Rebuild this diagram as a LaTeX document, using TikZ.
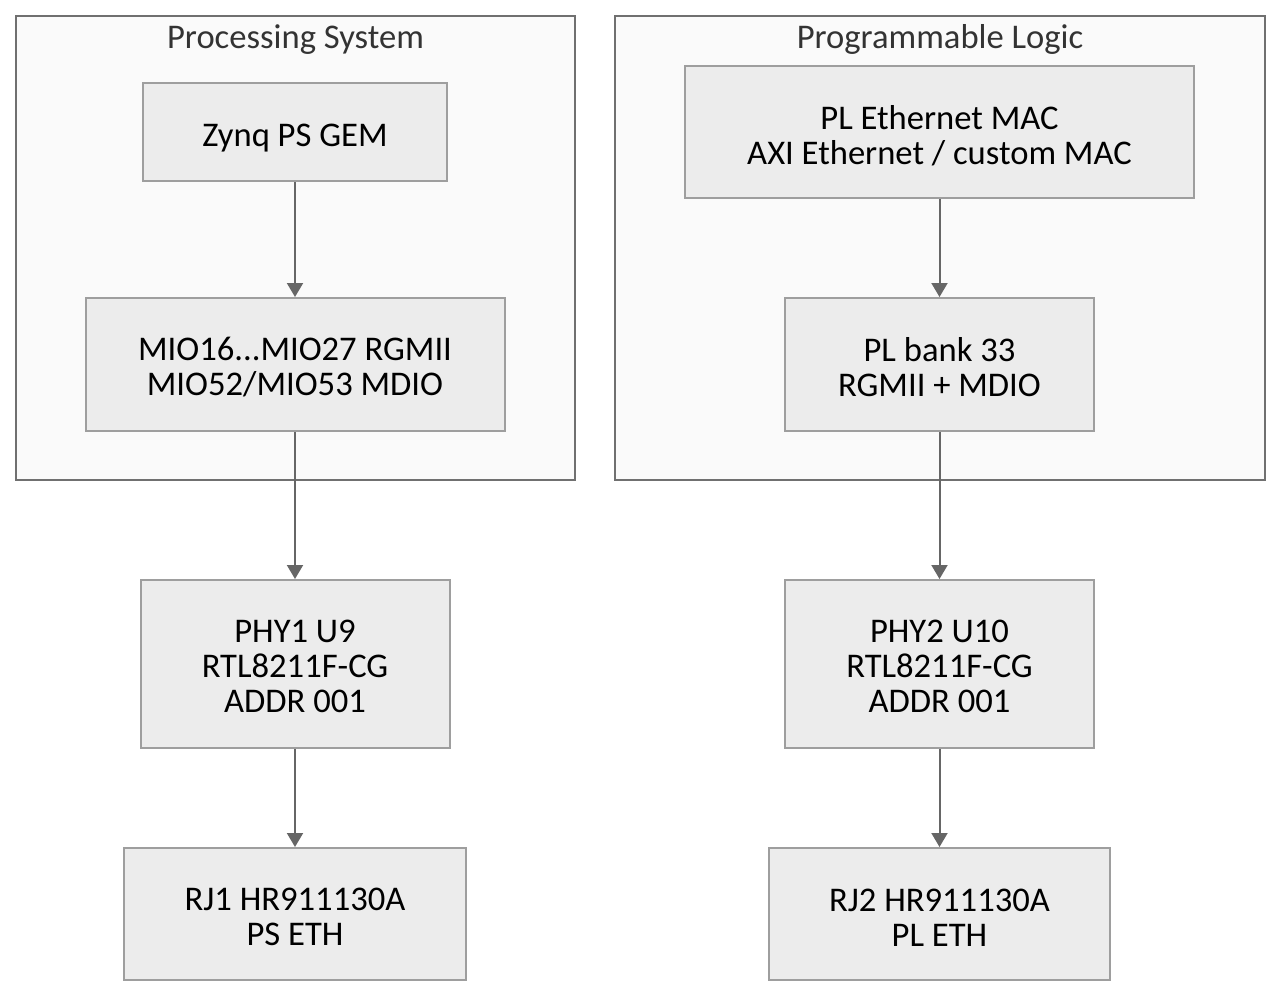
\documentclass[tikz,border=0pt]{standalone}
\usepackage{fontspec}
\setmainfont{Carlito}
\usetikzlibrary{arrows.meta, positioning}
\definecolor{clusterfill}{HTML}{FAFAFA}
\definecolor{clusterline}{HTML}{707070}
\definecolor{boxfill}{HTML}{ECECEC}
\definecolor{boxline}{HTML}{9E9E9E}
\definecolor{flowline}{HTML}{666666}
\definecolor{titletext}{HTML}{333333}
\tikzset{
  cluster/.style={draw=clusterline, fill=clusterfill, line width=1pt, inner sep=0pt},
  block/.style={draw=boxline, fill=boxfill, line width=1pt, inner sep=0pt, align=center,
    execute at begin node={\rule{0pt}{#1}}},
  block/.default=32pt,
  flow/.style={->, draw=flowline, line width=1pt},
}

\begin{document}
\begin{tikzpicture}[x=0.5pt, y=-0.5pt, >={Triangle[width=8pt,length=7pt]}, font=\fontsize{17.3}{17.5}\selectfont]
    \useasboundingbox (0,0) rectangle (1281,998);

    % Gruppen
    \node[cluster, minimum width=279.5pt, minimum height=232pt] (ps) at (295.5,248) {};
    \node[cluster, minimum width=325pt, minimum height=232pt] (pl) at (940,248) {};
    \node[text=titletext] (pstitle) at (295.5,39.5) {Processing System};
    \node[text=titletext] (pltitle) at (940,39.5) {Programmable Logic};

    % PS-Seite
    \node[block=17pt, minimum width=152pt, minimum height=49pt] (gem) at (295,132) {Zynq PS GEM};
    \node[block, minimum width=209.5pt, minimum height=66.5pt] (mio) at (295,364.5) {MIO16...MIO27 RGMII\\MIO52/MIO53 MDIO};
    \node[block=48.5pt, minimum width=154.5pt, minimum height=84pt] (phya) at (295,664) {PHY1 U9\\RTL8211F-CG\\ADDR 001};
    \node[block, minimum width=171pt, minimum height=66pt] (rja) at (295,914) {RJ1 HR911130A\\PS ETH};

    % PL-Seite
    \node[block=33pt, minimum width=254.5pt, minimum height=66pt] (mac) at (939.5,132) {PL Ethernet MAC\\AXI Ethernet / custom MAC};
    \node[block, minimum width=154.5pt, minimum height=66.5pt] (bank) at (939.5,364.5) {PL bank 33\\RGMII + MDIO};
    \node[block=48.5pt, minimum width=154.5pt, minimum height=84pt] (phyb) at (939.5,664) {PHY2 U10\\RTL8211F-CG\\ADDR 001};
    \node[block, minimum width=170.5pt, minimum height=66pt] (rjb) at (939.5,914) {RJ2 HR911130A\\PL ETH};

    % Verbindungen
    \draw[flow] (gem) -- (mio);
    \draw[flow] (mio) -- (phya);
    \draw[flow] (phya) -- (rja);
    \draw[flow] (mac) -- (bank);
    \draw[flow] (bank) -- (phyb);
    \draw[flow] (phyb) -- (rjb);
\end{tikzpicture}
\end{document}
